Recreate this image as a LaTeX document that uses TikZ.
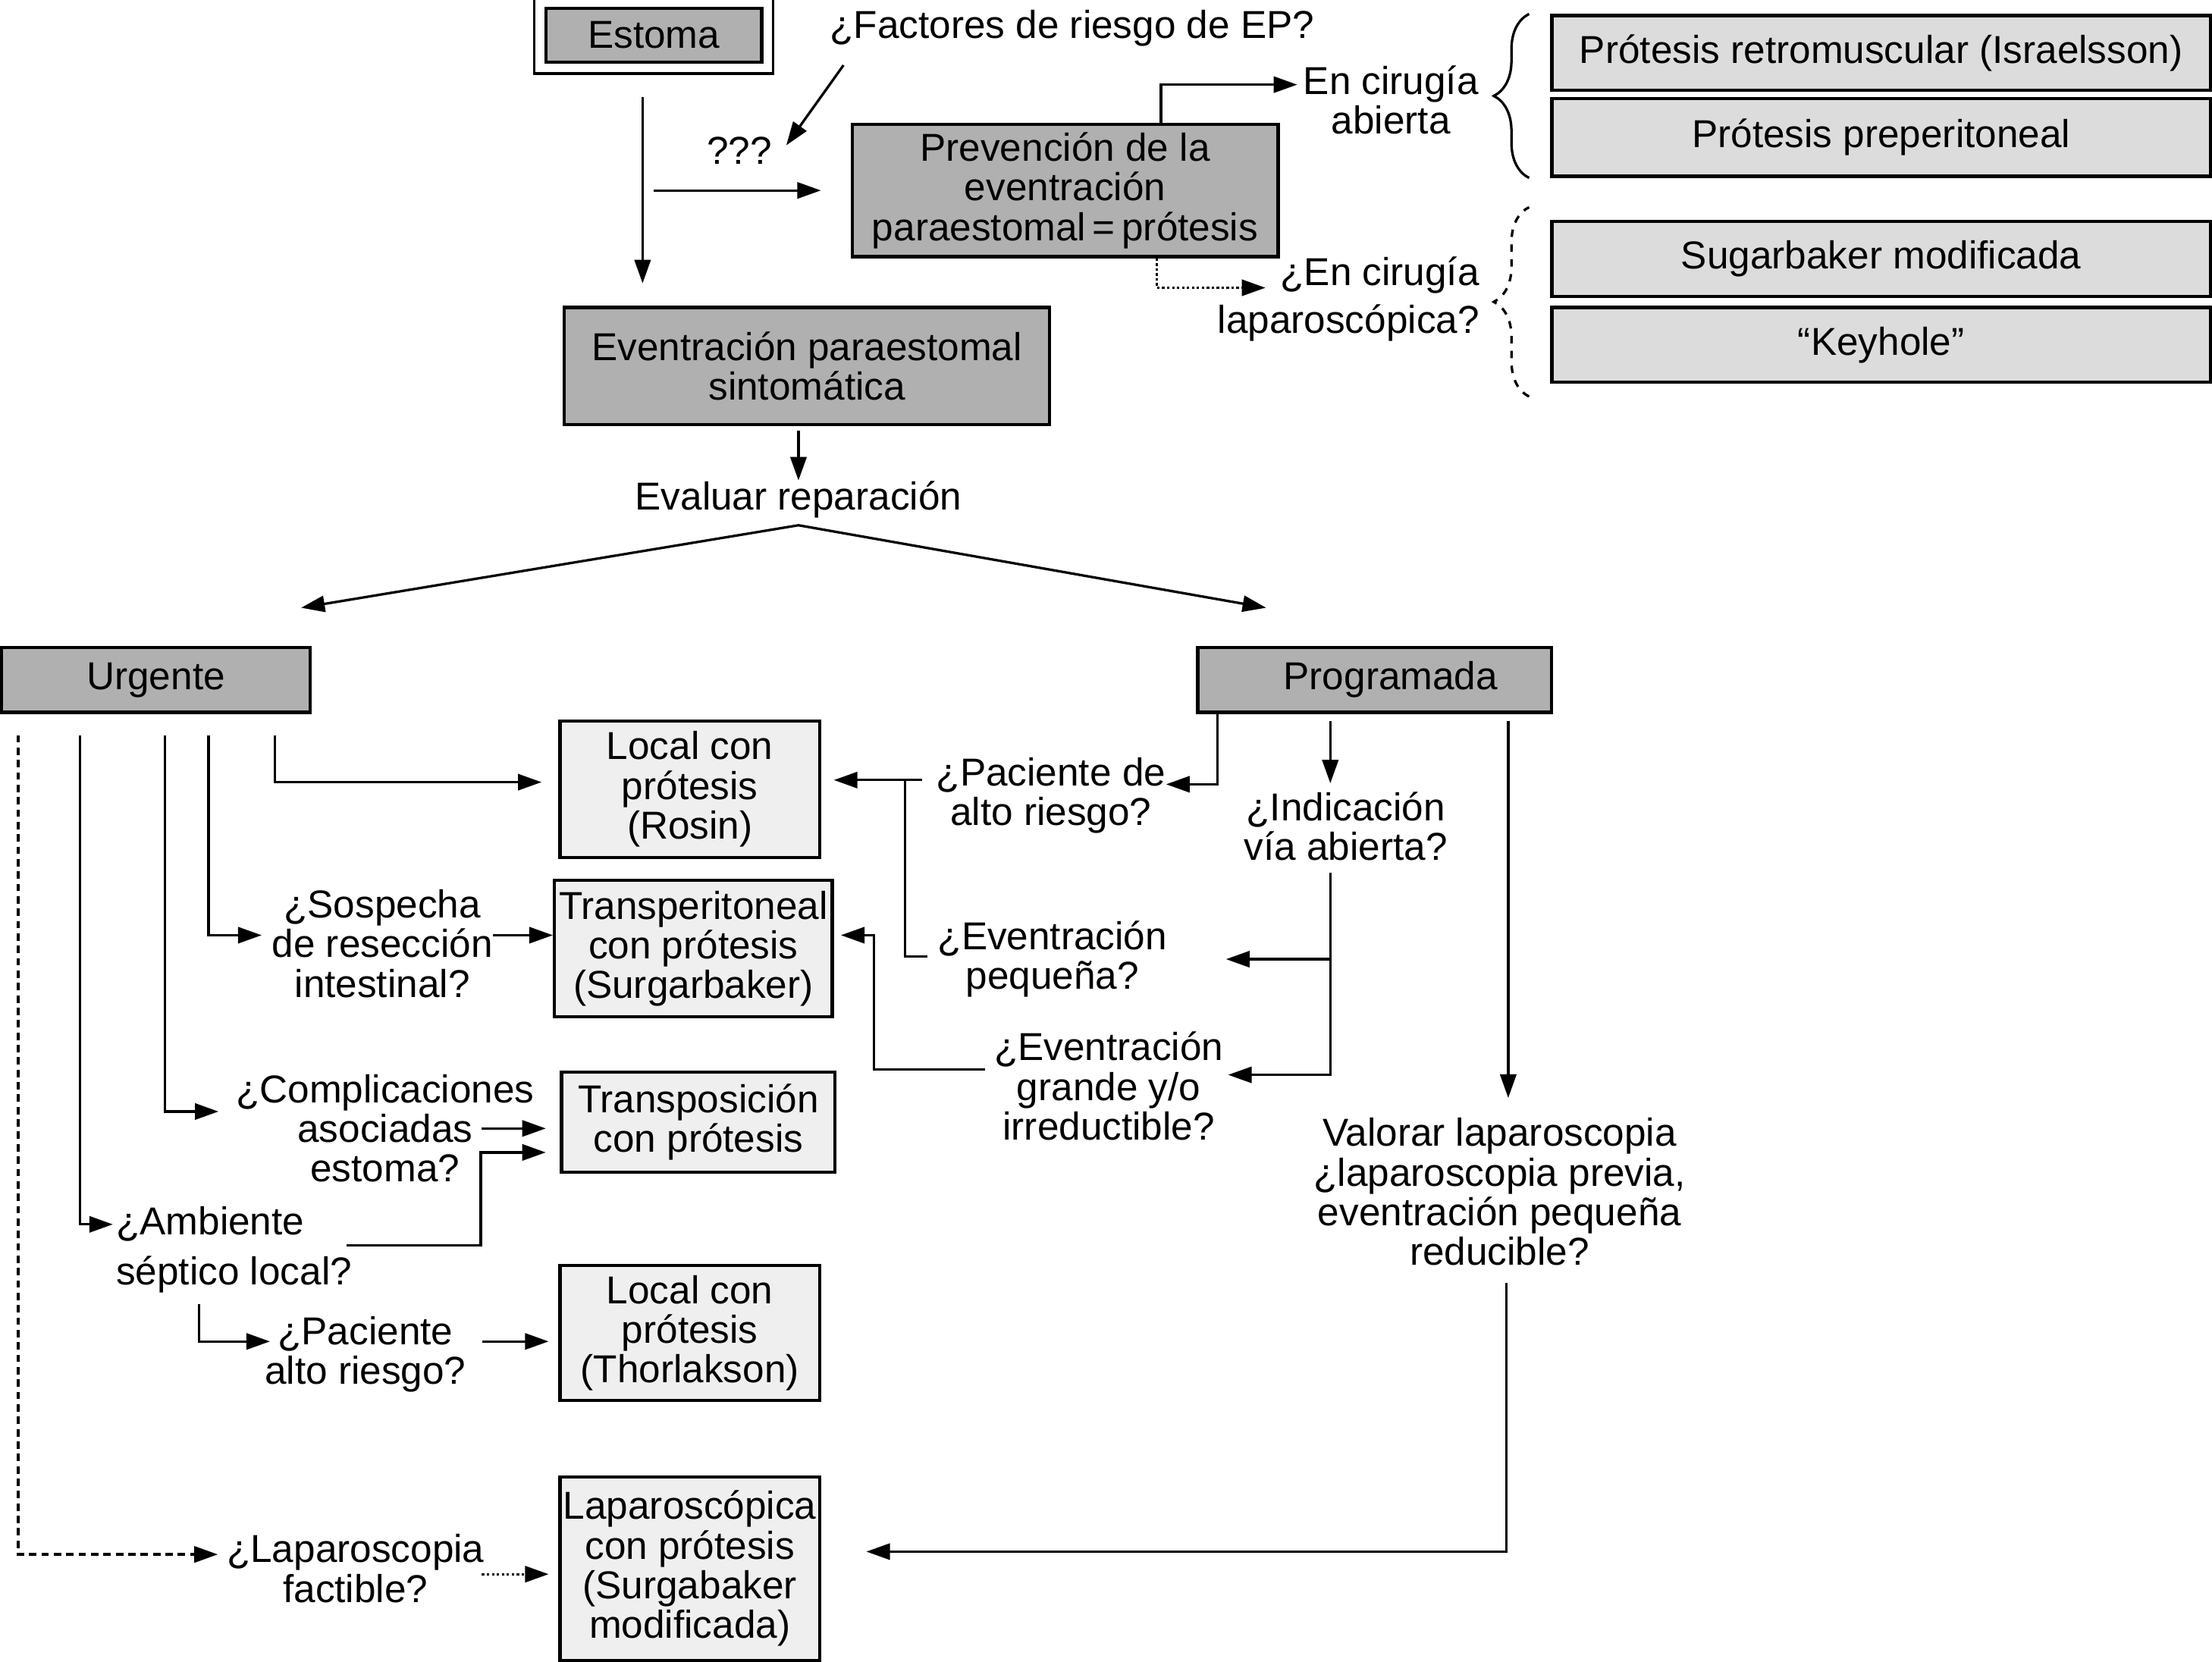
\documentclass[tikz,border=0pt]{standalone}
\usepackage{fontspec}
\setmainfont{Liberation Sans}
\usetikzlibrary{arrows.meta,fit,decorations.pathreplacing}
\definecolor{dkgray}{HTML}{B0B0B0}
\definecolor{ltgray}{HTML}{DCDCDC}
\definecolor{pale}{HTML}{EFEFEF}
\tikzset{
	dkbox/.style={draw, line width=1.3pt, fill=dkgray, align=center, inner sep=0pt},
	ltbox/.style={draw, line width=1.3pt, fill=ltgray, align=center, inner sep=0pt},
	palebox/.style={draw, line width=1.3pt, fill=pale, align=center, inner sep=0pt},
	qtxt/.style={align=center, inner sep=0pt},
	arr/.style={-{Triangle[length=9.5pt,width=6.5pt]}, line width=1pt},
	bracel/.style={line width=1pt, decorate, decoration={brace, amplitude=0.5cm}},
}

\begin{document}
\begin{tikzpicture}[x=0.02cm, y=-0.02cm, font=\fontsize{15.7}{16}\selectfont]
		%%%%% START %%%%%
		\useasboundingbox[fill=white] (0,0) rectangle (1568,1178);
		
		% top part
		\node[dkbox, minimum width=3.06cm, minimum height=0.76cm] (estoma) at (463.5,25) {Estoma};
		\node[draw, line width=1pt, inner sep=0.14cm, fit=(estoma)] (estfr) {};
		\node[qtxt] (fact) at (760,20) {¿Factores de riesgo de EP?};
		\node[qtxt] (qqq) at (524,107) {???};
		\node[dkbox, minimum width=6.04cm, minimum height=1.88cm] (prev) at (755,135) {Prevención de la\\eventración\\paraestomal\,=\,prótesis};
		\node[qtxt] (abierta) at (986,71) {En cirugía\\abierta};
		\node[qtxt, align=right, anchor=east] (lapa) at (1049,212) {¿En cirugía\\[3pt]laparoscópica?};
		
		\node[ltbox, minimum width=9.34cm, minimum height=1.06cm] (retro) at (1333.5,37.5) {Prótesis retromuscular (Israelsson)};
		\node[ltbox, minimum width=9.34cm, minimum height=1.1cm] (prepe) at (1333.5,97.5) {Prótesis preperitoneal};
		\node[ltbox, minimum width=9.34cm, minimum height=1.06cm] (sugar) at (1333.5,183.5) {Sugarbaker modificada};
		\node[ltbox, minimum width=9.34cm, minimum height=1.06cm] (key) at (1333.5,244.5) {“Keyhole”};
		
		\draw[bracel] ([shift={(-15,0)}]prepe.south west) -- ([shift={(-15,0)}]retro.north west);
		\draw[bracel, dashed] ([shift={(-15,9)}]key.south west) -- ([shift={(-15,-9)}]sugar.north west);
		
		\node[dkbox, minimum width=6.88cm, minimum height=1.66cm] (sint) at (572,259.5) {Eventración paraestomal\\sintomática};
		\node[qtxt] (eval) at (566,354) {Evaluar reparación};
		
		\draw[arr] ([shift={(10,13)}]fact.south west) -- ([shift={(10,6)}]qqq.north east);
		\draw[arr, shorten <=0.32cm, shorten >=0.32cm] ([shift={(-8,0)}]estfr.south) -- ([shift={(-8,0)}]estfr.south |- sint.north);
		\draw[arr, shorten >=0.42cm] (estfr.south |- prev.west) -- (prev.west);
		\draw[arr] ([shift={(68,0)}]prev.north) |- ([shift={(-4,-11)}]abierta.west);
		\draw[arr, densely dotted] ([shift={(65,0)}]prev.south) |- ([shift={(-152,-8)}]lapa.east);
		\draw[arr, shorten <=0.06cm] ([shift={(-6,0)}]sint.south) -- ([shift={(-6,0)}]sint.south |- eval.north);
		
		% urgente / programada
		\node[dkbox, minimum width=4.38cm, minimum height=0.92cm] (urg) at (110.5,482) {Urgente};
		\node[dkbox, minimum width=5.02cm, minimum height=0.92cm] (prog) at (974.5,482) {\hspace*{0.45cm}Programada};
		
		\coordinate (fork) at ([shift={(0,5)}]eval.south);
		\draw[arr] (fork) -- ([shift={(103,-27)}]urg.north);
		\draw[arr] (fork) -- ([shift={(-77,-27)}]prog.north);
		
		\node[palebox, minimum width=3.68cm, minimum height=1.94cm] (rosin) at (489,559.5) {Local con\\prótesis\\(Rosin)};
		\node[palebox, minimum width=3.94cm, minimum height=1.94cm] (trans) at (491.5,672.5) {Transperitoneal\\con prótesis\\(Surgarbaker)};
		\node[palebox, minimum width=3.88cm, minimum height=1.42cm] (transpo) at (495,795.5) {Transposición\\con prótesis};
		\node[palebox, minimum width=3.68cm, minimum height=1.92cm] (thor) at (489,945) {Local con\\prótesis\\(Thorlakson)};
		\node[palebox, minimum width=3.68cm, minimum height=2.6cm] (lapbox) at (489,1112) {Laparoscópica\\con prótesis\\(Surgabaker\\modificada)};
		
		\node[qtxt] (qsosp) at (271,669) {¿Sospecha\\de resección\\intestinal?};
		\node[qtxt] (qcompl) at (273,800) {¿Complicaciones\\asociadas\\estoma?};
		\node[qtxt, align=left, anchor=west] (qamb) at (82,886) {¿Ambiente\\[4pt]séptico local?};
		\node[qtxt] (qpac2) at (259,960) {¿Paciente\\alto riesgo?};
		\node[qtxt] (qlapf) at (252,1112) {¿Laparoscopia\\factible?};
		
		\node[qtxt] (qpac) at (745,564) {¿Paciente de\\alto riesgo?};
		\node[qtxt] (qind) at (954,586) {¿Indicación\\vía abierta?};
		\node[qtxt] (qpeq) at (746,680) {¿Eventración\\pequeña?};
		\node[qtxt] (qgran) at (786,770) {¿Eventración\\grande y/o\\irreductible?};
		\node[qtxt] (valorar) at (1063,845) {Valorar laparoscopia\\¿laparoscopia previa,\\eventración pequeña\\reducible?};
		
		% urgente branches
		\draw[arr, densely dashed] ([shift={(13,15)}]urg.south west) |- ([shift={(-6,-10)}]qlapf.west);
		\draw[arr] ([shift={(57,15)}]urg.south west) |- ([shift={(-2,-18)}]qamb.west);
		\draw[arr] ([shift={(117,15)}]urg.south west) |- ([shift={(-12,-12)}]qcompl.west);
		\draw[arr] ([shift={(148,15)}]urg.south west) |- ([shift={(-7,-6)}]qsosp.west);
		\draw[arr, shorten >=0.24cm] ([shift={(195,15)}]urg.south west) |- ([shift={(0,-5)}]rosin.west);
		
		\draw[arr] ([shift={(0,-6)}]qsosp.east) -- ([shift={(0,-6)}]qsosp.east -| trans.west);
		\draw[arr, shorten >=0.2cm] ([shift={(-38,0)}]qcompl.east) -- (qcompl.east -| transpo.west);
		\draw[arr, shorten >=0.2cm] ([shift={(-4,-3)}]qamb.east) -- ++(95,0) |- ([shift={(0,21.5)}]transpo.west);
		\draw[arr] ([shift={(59,8)}]qamb.south west) |- ([shift={(4,-9)}]qpac2.west);
		\draw[arr, shorten >=0.14cm] ([shift={(11,-9)}]qpac2.east) coordinate (p2) -- (p2 -| thor.west);
		\draw[arr, densely dotted, shorten >=0.14cm] ([shift={(-2,4)}]qlapf.east) coordinate (l2) -- (l2 -| lapbox.west);
		
		% programada branches
		\draw[arr] ([shift={(15,0)}]prog.south west) |- ([shift={(0,-8)}]qpac.east);
		\coordinate (join) at ([shift={(-22,-11)}]qpac.west);
		\draw[arr, shorten >=0.18cm] ([shift={(-10,-11)}]qpac.west) coordinate (p1) -- (p1 -| rosin.east);
		\draw[line width=1pt] ([shift={(-7,-2)}]qpeq.west) -| (join);
		\draw[arr, shorten <=0.1cm, shorten >=0.12cm] ([shift={(-31.5,0)}]prog.south) -- ([shift={(-31.5,0)}]prog.south |- qind.north);
		\draw[arr] ([shift={(-11,8)}]qind.south) |- ([shift={(3,-8)}]qgran.east);
		\draw[arr, shorten >=0.83cm] ([shift={(-11,0)}]qind.south |- qpeq.east) -- (qpeq.east);
		\draw[arr] ([shift={(-6,-12)}]qgran.west) -- ++(-79,0) |- ([shift={(5,-9.5)}]trans.east);
		\draw[arr, shorten <=0.1cm, shorten >=0.28cm] ([shift={(-32,0)}]prog.south east) -- ([shift={(-32,0)}]prog.south east |- valorar.north);
		\draw[arr, shorten >=0.64cm] ([shift={(5,12)}]valorar.south) |- ([shift={(0,-12)}]lapbox.east);
		
		%%%%% END %%%%%
\end{tikzpicture}
\end{document}
